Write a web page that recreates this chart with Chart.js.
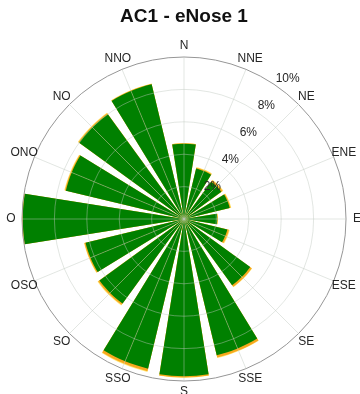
<!DOCTYPE html>
<html>
<head>
<meta charset="utf-8">
<script src="https://cdn.jsdelivr.net/npm/chart.js@4.4.0/dist/chart.umd.min.js"></script>
<style>
  html, body { margin: 0; padding: 0; background: #fff; }
  #wrap { width: 360px; height: 394px; position: relative; overflow: hidden; }
</style>
</head>
<body>
<div id="wrap"><canvas id="roseChart"></canvas></div>
<script>
// wind directions, clockwise from north
const directions = ['N', 'NNE', 'NE', 'ENE', 'E', 'ESE', 'SE', 'SSE', 'S', 'SSO', 'SO', 'OSO', 'O', 'ONO', 'NO', 'NNO'];

// frequency (%) per direction for each speed class
const speedClass1 = [4.65, 3.2, 2.85, 2.9, 2.05, 2.75, 5.05, 8.65, 9.7, 9.5, 6.45, 6.25, 9.95, 7.5, 8.0, 8.55];
const speedClass2 = [0.02, 0.06, 0.1, 0.06, 0.03, 0.1, 0.12, 0.14, 0.08, 0.16, 0.1, 0.07, 0.02, 0.06, 0.06, 0.03];
const speedClass3 = [0.02, 0.04, 0.05, 0.04, 0.02, 0.05, 0.03, 0.03, 0.02, 0.05, 0.05, 0.03, 0.03, 0.04, 0.04, 0.02];

// radial ticks (%)
const radialTicks = [2, 4, 6, 8, 10];

const chartTitle = 'AC1 - eNose 1';

// bar width and gap in degrees (bar + gap = 22.5)
var barAngle = 18;
var gapAngle = 22.5 - barAngle;

// each direction is split into: right half of its bar, a gap, left half of the next bar
// so every bar ends up centred on its direction
function splitBars(values){
    var out = [];
    for (var k = 0; k < values.length; k++){
        out.push(values[k]);
        out.push(0);
        out.push(values[(k + 1) % values.length]);
    }
    return out;
}
function cumulative(){
    var lists = arguments;
    return directions.map(function(d, i){
        var s = 0;
        for (var j = 0; j < lists.length; j++) s += lists[j][i];
        return s;
    });
}

var labels = [];
directions.forEach(function(d, k){
    labels.push(d, '', '');
});

function segAngle(ctx){
    var m = ctx.dataIndex % 3;
    return m == 1 ? gapAngle : barAngle / 2;
}

// stacked look: lower classes drawn on top of the cumulative totals
var datasets = [
    { label: 'class 1', data: splitBars(speedClass1), backgroundColor: 'rgb(0,128,0)' },
    { label: 'class 2', data: splitBars(cumulative(speedClass1, speedClass2)), backgroundColor: 'rgb(248,168,30)' },
    { label: 'class 3', data: splitBars(cumulative(speedClass1, speedClass2, speedClass3)), backgroundColor: 'rgb(255,232,120)' }
];
datasets.forEach(function(ds){
    ds.angle = segAngle;
    ds.borderWidth = 0;
});

var gridColor = 'rgba(190,200,190,0.45)';
var labelFont = '12px "Liberation Sans", Arial, Helvetica, sans-serif';

// direction names and % labels drawn at fixed spots around the scale
const roseLabels = {
    id: 'roseLabels',
    afterDraw(chart){
        var r = chart.scales.r;
        var ctx = chart.ctx;
        ctx.save();
        ctx.font = labelFont;
        ctx.fillStyle = '#262626';
        ctx.textAlign = 'center';
        ctx.textBaseline = 'middle';
        directions.forEach(function(d, k){
            var p = r.getPointPosition(k * 3, r.drawingArea + 11);
            ctx.fillText(d, p.x, p.y);
        });
        ctx.textAlign = 'left';
        ctx.textBaseline = 'alphabetic';
        radialTicks.forEach(function(t){
            var p = r.getPointPosition(4.5, r.getDistanceFromCenterForValue(t) + 3);
            ctx.fillText(t + '%', p.x, p.y);
        });
        ctx.restore();
    }
};

var config = {
    type: 'polarArea',
    data: { labels: labels, datasets: datasets },
    options: {
        responsive: true,
        maintainAspectRatio: false,
        animation: false,
        layout: { padding: { left: 22, right: 14, top: 0, bottom: 12 } },
        plugins: {
            legend: { display: false },
            tooltip: { enabled: false },
            title: {
                display: true,
                text: chartTitle,
                color: '#111',
                font: { family: '"Liberation Sans", Arial, Helvetica, sans-serif', size: 19, weight: 'bold' },
                padding: { top: 5, bottom: 30 }
            }
        },
        scales: {
            r: {
                min: 0,
                max: 10,
                startAngle: 0,
                ticks: { stepSize: 2, display: false },
                pointLabels: { display: false },
                grid: {
                    z: 1,
                    circular: true,
                    color: function(ctx){ return ctx.tick && ctx.tick.value == 10 ? 'rgb(150,150,150)' : gridColor; },
                    lineWidth: 1
                },
                angleLines: {
                    display: true,
                    color: gridColor,
                    lineWidth: function(ctx){ return ctx.index % 3 == 0 ? 1 : 0; }
                }
            }
        }
    },
    plugins: [roseLabels]
};

var roseChart = new Chart(document.getElementById('roseChart'), config);
</script>
</body>
</html>
